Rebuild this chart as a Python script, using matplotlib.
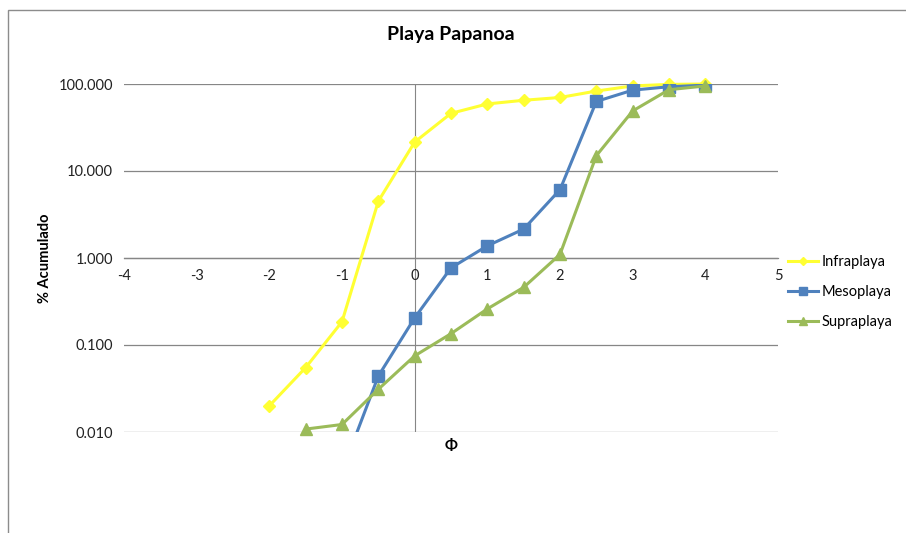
import numpy as np
import matplotlib.pyplot as plt
from matplotlib.patches import Rectangle
from matplotlib.ticker import FuncFormatter, FixedLocator

plt.rcParams['font.family'] = ['Lato', 'DejaVu Sans']
plt.rcParams['axes.unicode_minus'] = False

# Phi values and cumulative percentages
phi_infra = [-2, -1.5, -1, -0.5, 0, 0.5, 1, 1.5, 2, 2.5, 3, 3.5, 4]
infraplaya = [0.020, 0.055, 0.185, 4.5, 21.5, 46, 59, 65, 70, 83, 95, 99, 100]

phi_meso = [-1, -0.5, 0, 0.5, 1, 1.5, 2, 2.5, 3, 3.5, 4]
mesoplaya = [0.0035, 0.044, 0.205, 0.77, 1.38, 2.15, 6.1, 63, 85, 93, 97]

phi_supra = [-1.5, -1, -0.5, 0, 0.5, 1, 1.5, 2, 2.5, 3, 3.5, 4]
supraplaya = [0.0108, 0.0122, 0.031, 0.075, 0.135, 0.26, 0.46, 1.1, 15, 49, 86, 95]

x_ticks = [-4, -3, -2, -1, 0, 1, 2, 3, 4, 5]
y_ticks = [0.01, 0.1, 1, 10, 100]

grid_col = '#868686'

fig = plt.figure(figsize=(9.06, 5.33), dpi=100)
ax = fig.add_axes([124 / 906, 101 / 533, 654 / 906, 348 / 533])

# outer chart border (only left and top visible in the crop)
fig.patches.append(Rectangle((8 / 906, -0.5), 2, 0.5 + 523 / 533, transform=fig.transFigure,
                             fill=False, edgecolor='#8c8c8c', linewidth=1.0))

ax.set_yscale('log')
ax.set_xlim(-4, 5)
ax.set_ylim(0.01, 100)

for y in y_ticks:
    ax.axhline(y, color=grid_col, linewidth=0.9, zorder=1)
ax.axvline(0, color=grid_col, linewidth=0.8, zorder=1)

ax.plot(phi_infra, infraplaya, color='#FFFF33', marker='D', markersize=6.5, linewidth=2.2,
        label='Infraplaya', zorder=3, clip_on=False)
ax.plot(phi_meso, mesoplaya, color='#4F81BD', marker='s', markersize=8.5, linewidth=2.2,
        label='Mesoplaya', zorder=4)
ax.plot(phi_supra, supraplaya, color='#9BBB59', marker='^', markersize=9, linewidth=2.2,
        label='Supraplaya', zorder=5, clip_on=False)

for s in ['top', 'right', 'left']:
    ax.spines[s].set_visible(False)
ax.spines['bottom'].set_position(('data', 1))
ax.spines['bottom'].set_color(grid_col)
ax.spines['bottom'].set_linewidth(0.9)

ax.xaxis.set_major_locator(FixedLocator(x_ticks))
ax.tick_params(axis='x', length=0, pad=8, labelsize=10.5, labelcolor='#222222')
ax.yaxis.set_major_locator(FixedLocator(y_ticks))
ax.yaxis.set_minor_locator(FixedLocator([]))
ax.yaxis.set_major_formatter(FuncFormatter(lambda v, p: f'{v:.3f}'))
ax.tick_params(axis='y', length=0, pad=8, labelsize=10.5, labelcolor='#222222')

ax.set_title('Playa Papanoa', fontsize=14, fontweight='bold', pad=32)
ax.text(0.5, -0.02, 'Φ', transform=ax.transAxes, ha='center', va='top',
        fontsize=11, fontweight='bold')
fig.text(45 / 906, 1 - 258 / 533, '% Acumulado', rotation=90, ha='center', va='center',
         fontsize=10.5, fontweight='bold')

ax.legend(loc='center left', bbox_to_anchor=(784 / 906, 1 - 292 / 533),
          bbox_transform=fig.transFigure, frameon=False, fontsize=10.5,
          numpoints=1, handlelength=2.0, labelspacing=1.1, handletextpad=0.3,
          markerscale=0.7, borderaxespad=0, borderpad=0.3)

fig.savefig('out.png', dpi=100)
